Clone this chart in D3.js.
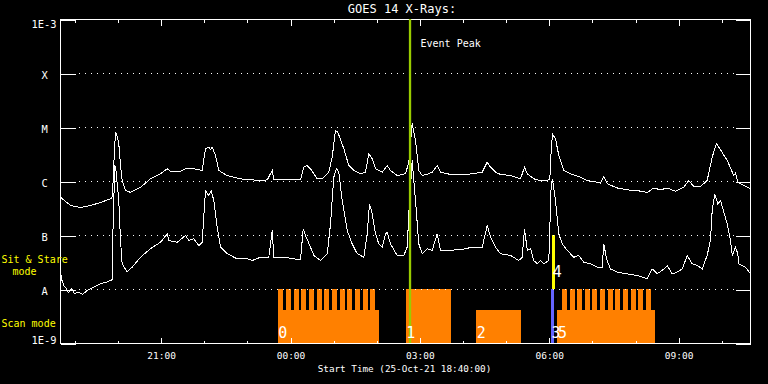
<!DOCTYPE html>
<html><head><meta charset="utf-8">
<script src="https://cdn.jsdelivr.net/npm/d3@7"></script>
<style>html,body{margin:0;padding:0;background:#000;overflow:hidden}</style>
</head><body>
<svg id="chart" width="768" height="384"></svg>
<script>
// ---------------- data ----------------
const titleText = "GOES 14 X-Rays:";
const xTitleText = "Start Time (25-Oct-21 18:40:00)";
const startTime = "2021-10-25T18:40:00Z";
const endTime = "2021-10-26T10:40:00Z";
const levelValues = [1e-9, 1e-8, 1e-7, 1e-6, 1e-5, 1e-4, 1e-3];
const levelLabels = ["1E-9", "A", "B", "C", "M", "X", "1E-3"];
const majorTickLabels = ["21:00", "00:00", "03:00", "06:00", "09:00"];

// GOES long channel (1-8 A), minutes after start time / flux W m^-2
const longMin = [0,14,28,42,56,70,72.3,74.4,76.5,78.6,81.1,83.5,85.8,90.4,97.4,111.3,125.2,139.1,148.5,153,167,173.9,185,197.1,201.7,206.3,208.7,211.1,215.7,220.2,231.9,250.4,278.3,287.6,294.5,296.8,333.9,338.5,343.2,347.8,357.2,364.1,373.3,378,382.6,385.8,394.2,401.1,408.1,417.4,424.4,428.9,433.7,438.3,447.6,454.5,459.1,468.5,480,484.6,489.3,493.9,498.5,503.2,512.4,517.1,524.1,528.7,542.6,565.8,586.7,593.7,598.3,605.2,612.2,626.1,640,645.6,649.4,658.5,667.8,677.1,680.8,682.7,684.5,688.7,693.3,700.3,709.6,723.5,732.8,742,751.3,755.9,760.6,774.5,788.4,802.3,816.3,825.5,834.8,844.1,855.6,867.2,874.1,881.1,890.4,899.7,906.7,912.6,918.3,927.6,936.8,939.1,942.3,950.7,960];
const longFlux = [5.1e-7,3.6e-7,3.3e-7,3.6e-7,4.1e-7,4.8e-7,5.3e-7,2.45e-6,8.2e-6,7.1e-6,5.0e-6,1.98e-6,1.04e-6,6.8e-7,6.3e-7,7.8e-7,1.12e-6,1.39e-6,1.72e-6,1.55e-6,1.55e-6,1.72e-6,1.72e-6,1.6e-6,4.04e-6,4.3e-6,3.9e-6,4.3e-6,3.03e-6,1.6e-6,1.29e-6,1.12e-6,1.04e-6,1.07e-6,1.6e-6,1.07e-6,1.07e-6,1.84e-6,1.98e-6,1.72e-6,1.12e-6,1.12e-6,1.49e-6,2.82e-6,8.8e-6,8.2e-6,4.04e-6,1.98e-6,1.6e-6,1.39e-6,1.49e-6,3.26e-6,2.63e-6,1.72e-6,1.49e-6,1.98e-6,1.6e-6,1.29e-6,1.39e-6,2.28e-6,1.2e-5,5.74e-6,1.6e-6,1.29e-6,1.39e-6,1.49e-6,1.98e-6,1.49e-6,1.35e-6,1.35e-6,1.49e-6,2.28e-6,1.84e-6,1.49e-6,1.35e-6,1.29e-6,1.12e-6,1.84e-6,1.39e-6,1.12e-6,1.04e-6,1.04e-6,1.12e-6,3.75e-6,7.63e-6,6.18e-6,3.03e-6,1.6e-6,1.39e-6,1.2e-6,1.04e-6,1.0e-6,9.3e-7,1.24e-6,9.1e-7,7.6e-7,7.0e-7,6.8e-7,6.25e-7,7.6e-7,7.0e-7,7.6e-7,6.6e-7,7.8e-7,1.04e-6,8.1e-7,8.1e-7,1.04e-6,2.82e-6,5.0e-6,3.86e-6,2.45e-6,1.29e-6,1.43e-6,9.7e-7,8.4e-7,7.3e-7];

// GOES short channel (0.5-4 A)
const shortMin = [0,2.1,4.6,8.3,11.1,15.3,19.5,25,30.6,37.1,45.9,55.7,62.6,69.6,72.3,73,75.5,77.2,81.1,83.5,85.8,92.8,99.8,111.3,125.2,139.1,148.5,150.7,162.4,173.9,178.5,185.5,192.4,197.1,201.7,206.3,209.7,213.3,218,222.6,231.9,245.8,259.8,266.7,278.3,289.8,294.5,296.8,310.7,333.9,337.7,340.9,347.8,352.5,361.7,371.1,375.7,380.2,384,387.2,391.9,398.9,405.8,412.8,422,426.7,429.9,433.7,438.3,442.9,447.6,452.2,454.5,459.1,468.5,477.6,482.4,484.6,489.3,493.9,498.5,503.2,510.1,517.1,524.1,528.7,542.6,565.8,570.4,586.7,593.7,598.3,605.2,612.2,626.1,637.6,642.4,645.6,649.4,654,658.5,663.3,667.8,672.4,679.4,682.7,684.5,688.7,693.3,698,705,714.2,721.1,728.1,737.4,746.7,753.7,755.9,759.7,765.2,774.5,788.4,802.3,816.3,823.3,830.2,839.4,844.1,851.1,858,865,872,878.9,885.9,892.8,899.7,904.3,906.7,910.3,914.5,918.3,922.9,927.6,932.2,934.6,939.1,942.3,943.7,953,960];
const shortFlux = [2.1e-8,1.47e-8,1.19e-8,1.03e-8,8.8e-9,1.04e-8,8.4e-9,8.9e-9,8.1e-9,9.6e-9,1.1e-8,1.28e-8,1.35e-8,1.47e-8,1.53e-8,1.24e-7,1.98e-6,1.6e-6,4.45e-7,8.1e-8,3.0e-8,2.1e-8,2.6e-8,3.96e-8,5.7e-8,7.5e-8,1.07e-7,8.1e-8,7.5e-8,1.0e-7,8.1e-8,8.7e-8,6.5e-8,7.5e-8,6.8e-7,5.5e-7,6.8e-7,4.45e-7,1.43e-7,6.1e-8,4.6e-8,3.7e-8,3.7e-8,3.44e-8,3.96e-8,3.96e-8,1.24e-7,3.96e-8,3.96e-8,3.55e-8,1.33e-7,1.0e-7,6.1e-8,4.27e-8,3.44e-8,4.6e-8,1.65e-7,1.2e-6,1.72e-6,1.49e-6,4.45e-7,1.24e-7,7.0e-8,4.6e-8,3.96e-8,1.07e-7,3.86e-7,2.52e-7,1.07e-7,7.0e-8,6.1e-8,1.07e-7,1.15e-7,7.0e-8,4.27e-8,4.27e-8,6.1e-8,2.52e-7,2.45e-6,4.45e-7,7.0e-8,4.6e-8,5.7e-8,5.3e-8,1.07e-7,5.3e-8,5.3e-8,5.7e-8,6.1e-8,6.1e-8,1.53e-7,9.3e-8,6.1e-8,4.6e-8,4.27e-8,3.44e-8,3.96e-8,1.33e-7,5.3e-8,5.7e-8,3.44e-8,3.0e-8,3.44e-8,3.0e-8,3.44e-8,9.1e-7,1.12e-6,4.45e-7,1.07e-7,7.0e-8,5.3e-8,3.96e-8,4.27e-8,3.2e-8,3.0e-8,2.6e-8,2.6e-8,7.0e-8,3.7e-8,2.4e-8,2.1e-8,1.95e-8,1.82e-8,1.58e-8,2.4e-8,1.95e-8,2.4e-8,2.78e-8,1.95e-8,2.1e-8,2.4e-8,4.27e-8,3.0e-8,2.78e-8,2.4e-8,4.27e-8,8.1e-8,2.9e-7,5.9e-7,3.86e-7,4.45e-7,2.7e-7,1.65e-7,8.1e-8,4.27e-8,6.1e-8,4.6e-8,3.0e-8,2.6e-8,1.95e-8];

// observations (IRIS-like)
const obsLabels = ["0", "1", "2", "3", "4", "5"];
const obsStart  = ["23:43", "02:41", "04:19", "06:03", "06:05", "06:12"];
const obsEnd    = ["02:04", "03:44", "05:21", "06:07", "06:08", "08:28"];
const obsMode   = ["scan", "scan", "scan", "scan", "stare", "scan"];
const obsKind   = ["raster", "raster", "raster", "other", "stare", "raster"];
const obsTall   = [false, true, false, true, true, false];
const rasterTeeth0 = ["23:43","23:54","00:05","00:15","00:26","00:37","00:47","00:58","01:09","01:19","01:30","01:41","01:51"];
const rasterTeeth5 = ["06:18","06:29","06:39","06:50","07:00","07:11","07:22","07:32","07:43","07:54","08:04","08:15"];
const toothMinutes = 7;
const eventPeak = "02:47";

// ---------------- drawing ----------------
const FONT = "'DejaVu Sans Mono', monospace";
const L = 60, R = 750, T = 19, B = 343;
const t0 = new Date(startTime), t1 = new Date(endTime);
const fromMin = m => new Date(t0.getTime() + m * 60000);
function clock(s) {
  const [h, m] = s.split(":").map(Number);
  let d = new Date(Date.UTC(2021, 9, 25, h, m));
  if (d < t0) d = new Date(d.getTime() + 864e5);
  return d;
}

const x = d3.scaleUtc().domain([t0, t1]).range([L, R]);
const y = d3.scaleLog().domain([1e-9, 1e-3]).range([B, T]);

const svg = d3.select("#chart");
svg.append("rect").attr("width", 768).attr("height", 384).attr("fill", "#000");

const bandTop = y(1e-8), bandBot = y(1e-9), stareTop = y(1e-7);
const lowTop = bandTop + (bandBot - bandTop) * 0.39;
const colors = {raster: "#ff8000", other: "#6464ff", stare: "#ffff00"};

// blocks
const gBlocks = svg.append("g").attr("shape-rendering", "crispEdges");
obsLabels.forEach((lab, i) => {
  const xa = x(clock(obsStart[i])), xb = x(clock(obsEnd[i]));
  let top, bot;
  if (obsMode[i] === "stare") { top = stareTop; bot = bandTop; }
  else { top = obsTall[i] ? bandTop : lowTop; bot = bandBot; }
  gBlocks.append("rect").attr("x", xa).attr("y", top).attr("width", xb - xa).attr("height", bot - top)
    .attr("fill", colors[obsKind[i]]);
});
[rasterTeeth0, rasterTeeth5].forEach(arr => {
  gBlocks.selectAll(null).data(arr).enter().append("rect")
    .attr("x", d => x(clock(d)))
    .attr("width", d => x(new Date(clock(d).getTime() + toothMinutes * 60000)) - x(clock(d)))
    .attr("y", bandTop).attr("height", bandBot - bandTop).attr("fill", colors.raster);
});

// grid and axes
const gAx = svg.append("g").attr("transform", "translate(0.5,0.5)").attr("shape-rendering", "crispEdges");
gAx.selectAll(null).data(levelValues.slice(1, -1)).enter().append("line")
  .attr("x1", L + 18).attr("x2", R - 12).attr("y1", d => Math.round(y(d))).attr("y2", d => Math.round(y(d)))
  .attr("stroke", "#fff").attr("stroke-dasharray", "1,5");

const yl = gAx.append("g").attr("transform", `translate(${L},0)`)
  .call(d3.axisLeft(y).tickValues(levelValues).tickSizeInner(-15).tickSizeOuter(0)
    .tickFormat((d, i) => levelLabels[i]));
const yr = gAx.append("g").attr("transform", `translate(${R},0)`)
  .call(d3.axisRight(y).tickValues(levelValues).tickSizeInner(-15).tickSizeOuter(0).tickFormat(""));
[yl, yr].forEach(g => {
  g.select(".domain").remove();
  g.selectAll("line").attr("stroke", "#fff");
});
yl.selectAll("text").attr("fill", "#fff").attr("font-family", FONT).attr("font-size", 10.4)
  .each(function(d, i) {
    const t = d3.select(this);
    if (i === 0) t.attr("x", -4).attr("text-anchor", "end").attr("dy", null).attr("y", 0);
    else if (i === levelLabels.length - 1) t.attr("x", -4).attr("text-anchor", "end").attr("dy", null).attr("y", 8);
    else t.attr("x", -16).attr("text-anchor", "middle").attr("dy", null).attr("y", 5);
  });

const majorDates = majorTickLabels.map(clock);
function styleX(g) {
  g.select(".domain").remove();
  g.selectAll("line").attr("stroke", "#fff");
  g.selectAll("text").attr("fill", "#fff").attr("font-family", FONT).attr("font-size", 9.5);
}
gAx.append("g").attr("transform", `translate(0,${B})`)
  .call(d3.axisBottom(x).ticks(d3.utcHour.every(1)).tickSizeInner(-3).tickSizeOuter(0).tickFormat("")).call(styleX);
gAx.append("g").attr("transform", `translate(0,${B})`)
  .call(d3.axisBottom(x).tickValues(majorDates).tickSizeInner(-6).tickSizeOuter(0).tickPadding(9)
    .tickFormat((d, i) => majorTickLabels[i])).call(styleX);
gAx.append("g").attr("transform", `translate(0,${T})`)
  .call(d3.axisTop(x).ticks(d3.utcHour.every(1)).tickSizeInner(-3).tickSizeOuter(0).tickFormat("")).call(styleX);
gAx.append("g").attr("transform", `translate(0,${T})`)
  .call(d3.axisTop(x).tickValues(majorDates).tickSizeInner(-6).tickSizeOuter(0).tickFormat("")).call(styleX);

gAx.append("rect").attr("x", L).attr("y", T).attr("width", R - L).attr("height", B - T)
  .attr("fill", "none").attr("stroke", "#fff");

// curves
const line = d3.line().x(d => x(fromMin(d[0]))).y(d => y(d[1]));
const gC = svg.append("g").attr("transform", "translate(0.5,0.5)");
[[longMin, longFlux], [shortMin, shortFlux]].forEach(([tm, fl]) => {
  gC.append("path").datum(tm.map((m, i) => [m, fl[i]])).attr("d", line)
    .attr("fill", "none").attr("stroke", "#fff").attr("stroke-width", 1)
    .attr("shape-rendering", "crispEdges");
});

// event peak
const xp = x(clock(eventPeak));
svg.append("line").attr("x1", xp).attr("x2", xp).attr("y1", T).attr("y2", B)
  .attr("stroke", "#99cc00").attr("stroke-width", 2.3);
svg.append("text").attr("x", xp + 10.5).attr("y", T + 27.5).text("Event Peak")
  .attr("fill", "#fff").attr("font-family", FONT).attr("font-size", 10);

// block labels
obsLabels.forEach((lab, i) => {
  const xa = x(clock(obsStart[i]));
  const yb = obsMode[i] === "stare" ? bandTop - 12 : bandBot - 5;
  svg.append("text").attr("x", xa + 0.5).attr("y", yb).text(lab)
    .attr("fill", "#fff").attr("font-family", FONT).attr("font-size", 15);
});

// titles
svg.append("text").attr("x", 402).attr("y", 13.3).attr("text-anchor", "middle").text(titleText)
  .attr("fill", "#fff").attr("font-family", FONT).attr("font-size", 12);
svg.append("text").attr("x", 404.5).attr("y", 372).attr("text-anchor", "middle").text(xTitleText)
  .attr("fill", "#fff").attr("font-family", FONT).attr("font-size", 9.3);

const yellowT = [["Sit & Stare", 1.5, 263], ["mode", 12.5, 275], ["Scan mode", 1.5, 327.3]];
yellowT.forEach(([s, xx, yy]) => svg.append("text").attr("x", xx).attr("y", yy).text(s)
  .attr("fill", "#ffff00").attr("font-family", FONT).attr("font-size", 10));
</script>
</body></html>
